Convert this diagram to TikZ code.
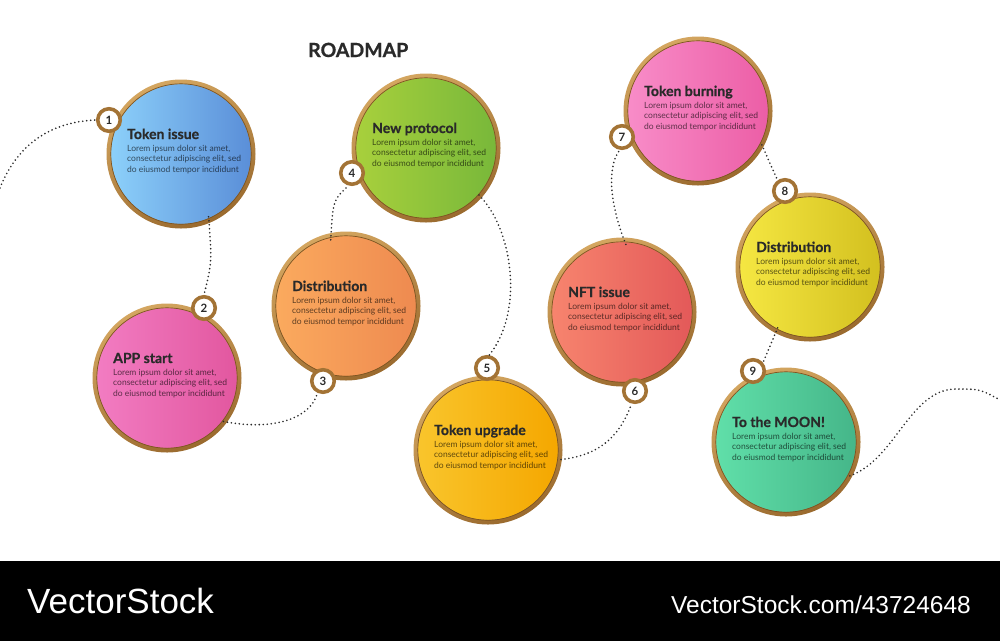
\documentclass[tikz,border=0pt]{standalone}
\usepackage{fontspec}
\setmainfont{Lato}
\newfontfamily\heavy[BoldFeatures={FakeBold=0.7}]{Lato}
\newfontfamily\bannerfont{Liberation Sans}
\definecolor{ringL}{HTML}{D4A660}
\definecolor{ringD}{HTML}{9A6A2E}
\definecolor{ringE}{HTML}{7E5522}
\definecolor{ink}{HTML}{2A2A2A}
\definecolor{aL}{HTML}{8CD0FA}\definecolor{aR}{HTML}{5A8ED8}
\definecolor{bL}{HTML}{F27CC2}\definecolor{bR}{HTML}{E2579F}
\definecolor{cL}{HTML}{FBAA5E}\definecolor{cR}{HTML}{EE8A50}
\definecolor{dL}{HTML}{A8D03C}\definecolor{dR}{HTML}{78B83A}
\definecolor{eL}{HTML}{F9C52C}\definecolor{eR}{HTML}{F5A700}
\definecolor{fL}{HTML}{F7846E}\definecolor{fR}{HTML}{E35959}
\definecolor{gL}{HTML}{F88CC8}\definecolor{gR}{HTML}{EC5EA6}
\definecolor{hL}{HTML}{F5E742}\definecolor{hR}{HTML}{D3C01F}
\definecolor{iL}{HTML}{60DFA9}\definecolor{iR}{HTML}{45B689}
\tikzset{
  bigc/.style n args={2}{circle, minimum size=141, inner sep=0, left color=#1, right color=#2},
  goldring/.style={top color=ringL, bottom color=ringD, shading angle=25, even odd rule},
  badge/.style={circle, minimum size=22.5, inner sep=0, fill=white, draw=ringD!85!ringL, line width=3.6, font=\fontsize{11.5}{12}\selectfont\bfseries, text=ink},
  ttl/.style={anchor=base west, inner sep=0, font=\heavy\fontsize{14}{16}\selectfont\bfseries, text=ink},
  bodytxt/.style={anchor=north west, inner sep=0, align=left, font=\fontsize{8.5}{10.4}\selectfont, text=black, text opacity=0.62},
  conn/.style={draw=ink, line width=1.8, dash pattern=on 0pt off 4pt, line cap=round},
}
\newcommand\stage[6]{%
  \node[bigc={#4}{#5}] (c#1) at (#2,#3) {};
  \shade[goldring] (c#1.center) circle (74.5) circle (70);
  \draw[ringE, line width=0.7] (c#1.center) circle (70.2);
  \node[ttl] (t#1) at ({#2-54},{#3-15}) {#6};
  \node[bodytxt] (d#1) at ({#2-54},{#3-9}) {Lorem ipsum dolor sit amet,\\consectetur adipiscing elit, sed\\do eiusmod tempor incididunt};
}
\begin{document}
\begin{tikzpicture}[x=1pt,y=-1pt]
\path[use as bounding box, fill=white] (0,0) rectangle (1000,641);
\node[anchor=base west, inner sep=0, font=\heavy\fontsize{19.5}{20}\selectfont\bfseries, text=ink] (title) at (308,57) {ROADMAP};
% connectors (drawn first)
\coordinate (s0) at (0,188);
\coordinate (e1) at (955,389);
\coordinate (e2) at (1000,400);
% stages
\stage{1}{181}{154}{aL}{aR}{Token issue}
\stage{2}{167}{378}{bL}{bR}{APP start}
\stage{3}{346}{306}{cL}{cR}{Distribution}
\stage{4}{426}{148}{dL}{dR}{New protocol}
\stage{5}{488}{450}{eL}{eR}{Token upgrade}
\stage{6}{622}{312}{fL}{fR}{NFT issue}
\stage{7}{698}{111}{gL}{gR}{Token burning}
\stage{8}{810}{267}{hL}{hR}{Distribution}
\stage{9}{786}{442}{iL}{iR}{To the MOON!}
% badges
\node[badge] (b1) at (109,120) {1};
\node[badge] (b2) at (204,308) {2};
\node[badge] (b3) at (323,381) {3};
\node[badge] (b4) at (352,173) {4};
\node[badge] (b5) at (487,368) {5};
\node[badge] (b6) at (635,391) {6};
\node[badge] (b7) at (622,137) {7};
\node[badge] (b8) at (785,191) {8};
\node[badge] (b9) at (753,371) {9};
% connectors
\draw[conn] (s0) .. controls (15,150) and (45,122) .. (b1.west);
\draw[conn] ([shift={(-68:3)}]c1.-68) .. controls (212,262) .. (b2.north);
\draw[conn] ([shift={(-40:3)}]c2.-40) .. controls (280,432) and (312,415) .. (b3.-115);
\draw[conn] ([shift={(102:3)}]c3.102) .. controls (333,200) .. (b4.-105);
\draw[conn] ([shift={(-44:3)}]c4.-44) .. controls (512,228) and (525,310) .. (b5.80);
\draw[conn] ([shift={(-8:3)}]c5.-8) .. controls (605,455) and (622,430) .. (b6.-105);
\draw[conn] ([shift={(87:3)}]c6.87) .. controls (612,210) and (605,170) .. (b7.-100);
\draw[conn] ([shift={(-30:3)}]c7.-30) -- (b8.125);
\draw[conn] ([shift={(-116:3)}]c8.-116) -- (b9.40);
\draw[conn] ([shift={(-30:3)}]c9.-30) .. controls (895,460) and (910,390) .. (e1) .. controls (980,389) .. (e2);
% banner
\fill[black] (0,561) rectangle (1000,641);
\node[anchor=base west, inner sep=0, text=white, font=\bannerfont\fontsize{35}{36}\selectfont] (brand) at (27,613) {VectorStock};
\node[anchor=base east, inner sep=0, text=white, font=\bannerfont\fontsize{24.5}{26}\selectfont] (link) at (971,613) {VectorStock.com/43724648};
\end{tikzpicture}
\end{document}
